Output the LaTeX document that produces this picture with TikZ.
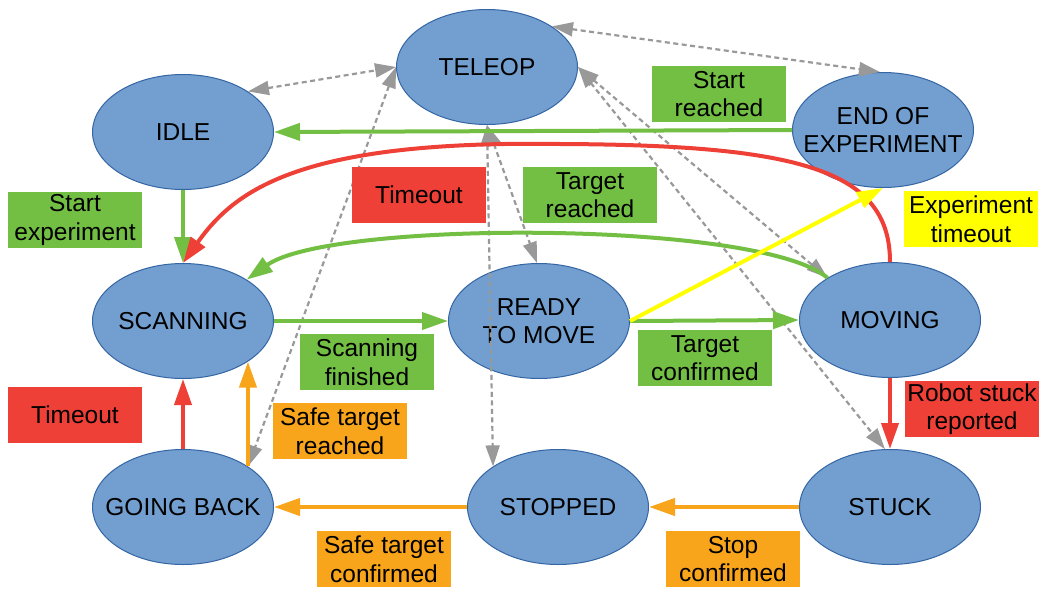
\documentclass[tikz,border=0pt]{standalone}
\usepackage{fontspec}
\setmainfont{Liberation Sans}
\usetikzlibrary{shapes.geometric,arrows.meta}
\definecolor{statefill}{HTML}{729FCF}
\definecolor{stateline}{HTML}{3465A4}
\definecolor{cgreen}{HTML}{72BF44}
\definecolor{cred}{HTML}{EE4037}
\definecolor{corange}{HTML}{F8A51C}
\definecolor{cyellow}{HTML}{FFFF00}
\definecolor{cgray}{HTML}{999999}
\begin{document}
\begin{tikzpicture}[x=1pt,y=-1pt,
  txt/.style={font=\fontsize{24.5}{28.5}\selectfont, align=center},
  state/.style={ellipse, draw=stateline, line width=1pt, fill=statefill, minimum width=181pt, minimum height=115pt, inner sep=0pt},
  lbl/.style={txt, minimum width=134pt, minimum height=56pt, inner sep=0pt},
  tr/.style={-{Triangle[length=26pt,width=17pt]}, line width=4pt},
  dd/.style={{Triangle[length=21pt,width=14pt]}-{Triangle[length=21pt,width=14pt]}, line width=2.2pt, draw=cgray, dash pattern=on 5pt off 3.5pt},
]
\fill[white] (0,0) rectangle (1042,590);
\useasboundingbox (0,0) rectangle (1042,590);

% states
\node[state, label={[txt]center:TELEOP}] (teleop) at (487,67) {};
\node[state, label={[txt]center:IDLE}] (idle) at (183,132) {};
\node[state, label={[txt]center:END OF\\EXPERIMENT}] (end) at (883,130) {};
\node[state, label={[txt]center:SCANNING}] (scanning) at (183,321) {};
\node[state, label={[txt]center:READY\\TO MOVE}] (ready) at (539,321) {};
\node[state, label={[txt]center:MOVING}] (moving) at (890,320) {};
\node[state, label={[txt]center:GOING BACK}] (goingback) at (183,507) {};
\node[state, label={[txt]center:STOPPED}] (stopped) at (558,507) {};
\node[state, label={[txt]center:STUCK}] (stuck) at (890,507) {};

% gray dashed links
\draw[dd] (idle.32) -- (teleop.west);
\draw[dd] (teleop.32) -- (end.93);
\draw[dd] (teleop.west) -- (goingback.32);
\draw[dd] (teleop.south) -- (ready.92);
\draw[dd] (teleop.south) -- (stopped.148);
\draw[dd] (teleop.east) -- (moving.146);
\draw[dd] (teleop.east) -- (stuck.95);

% green transitions
\draw[tr, cgreen] (end.west) -- (idle.east);
\draw[tr, cgreen] (idle.south) -- (scanning.north);
\draw[tr, cgreen] (scanning.east) -- (ready.west);
\draw[tr, cgreen] (ready.east) -- (moving.west);
\draw[tr, cgreen] (moving.146) .. controls (760,220) and (330,220) .. (scanning.33);

% red transitions
\coordinate (rtop) at (560,144);
\draw[tr, cred] (moving.north) .. controls (890,170) and (800,145) .. (rtop) .. controls (300,140) and (235,190) .. (scanning.north);
\draw[tr, cred] (moving.south) -- (stuck.north);
\draw[tr, cred] (goingback.north) -- (scanning.south);

% orange transitions
\draw[tr, corange] (stuck.west) -- (stopped.east);
\draw[tr, corange] (stopped.west) -- (goingback.east);
\draw[tr, corange] (goingback.32) -- (scanning.-32);

% yellow transition
\draw[tr, cyellow] (ready.east) -- (end.south);

% labels
\node[lbl, fill=cgreen] (lstartreached) at (719,94) {Start\\reached};
\node[lbl, fill=cred] (ltimeout1) at (419,195) {Timeout};
\node[lbl, fill=cgreen] (ltargetreached) at (590,195) {Target\\reached};
\node[lbl, fill=cgreen] (lstartexp) at (75,220) {Start\\experiment};
\node[lbl, fill=cyellow] (lexptimeout) at (971,219) {Experiment\\timeout};
\node[lbl, fill=cgreen] (lscanfin) at (367,362) {Scanning\\finished};
\node[lbl, fill=cgreen] (ltargetconf) at (705,358) {Target\\confirmed};
\node[lbl, fill=cred] (ltimeout2) at (75,415) {Timeout};
\node[lbl, fill=corange] (lsafereached) at (340,431) {Safe target\\reached};
\node[lbl, fill=cred] (lstuck) at (972,409) {Robot stuck\\reported};
\node[lbl, fill=corange] (lsafeconf) at (384,559) {Safe target\\confirmed};
\node[lbl, fill=corange] (lstopconf) at (733,559) {Stop\\confirmed};
\end{tikzpicture}
\end{document}
